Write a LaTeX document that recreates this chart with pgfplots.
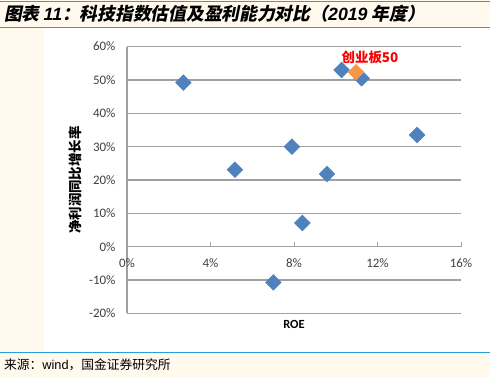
\documentclass[border=0pt]{standalone}
\usepackage{pgfplots}
\pgfplotsset{compat=1.18}
\usepackage{fontspec}
\setmainfont{Carlito}
\newfontfamily\cjk{Noto Sans CJK SC}
\newfontfamily\cjkti[FakeSlant=0.2]{Noto Sans CJK SC}
\newfontfamily\latti{Liberation Sans}
\definecolor{cream}{HTML}{FFF9EE}
\definecolor{bline}{HTML}{25A2DE}
\definecolor{ptblue}{HTML}{4F81BD}
\definecolor{ptorange}{HTML}{F79646}
\definecolor{gridgray}{HTML}{A0A0A0}
\definecolor{ticktext}{HTML}{404040}
\begin{document}
\begin{tikzpicture}[x=1bp,y=1bp]
\path[use as bounding box] (0,0) rectangle (490,377);
\fill[cream] (0,0) rectangle (490,377);
\fill[white] (44,25) rectangle (490,349);
\draw[bline, line width=1.5bp] (0,375.5) -- (490,375.5);
\draw[bline, line width=1bp] (0,349.5) -- (490,349.5);
\draw[bline, line width=1.5bp] (0,24.5) -- (490,24.5);
\node[anchor=west, inner sep=0] at (4,363.5) {\cjkti\bfseries\fontsize{17.8}{20}\selectfont 图表 {\latti\bfseries\itshape 11}：科技指数估值及盈利能力对比（{\latti\bfseries\itshape 2019} 年度）};
\node[anchor=west, inner sep=0] at (4,12) {\cjk\fontsize{12.8}{14}\selectfont 来源：{\latti wind}，国金证券研究所};
\node[rotate=90, inner sep=0, font=\cjk\bfseries\fontsize{13.5}{15}\selectfont] at (75,197) {净利润同比增长率};
\node[inner sep=0, font=\bfseries\fontsize{12.5}{14}\selectfont] at (294,53) {ROE};
\begin{axis}[
  scale only axis, width=334bp, height=266.8bp,
  anchor=origin, at={(127bp,130.3bp)},
  xmin=0, xmax=16, ymin=-20, ymax=60,
  axis x line=middle, axis y line=left,
  axis line style={gridgray, line width=1.2bp, -},
  xtick={0,4,8,12,16}, ytick={-20,-10,0,10,20,30,40,50,60},
  hide obscured x ticks=false, hide obscured y ticks=false,
  ymajorgrids, grid style={gridgray, line width=1.2bp},
  tick align=inside, major tick length=5bp,
  x tick style={gridgray, line width=1bp},
  y tick style={draw=none},
  tick label style={font=\fontsize{13}{15}\selectfont, text=ticktext},
  /pgf/number format/assume math mode=true,
  xticklabel={\pgfmathprintnumber{\tick}\%},
  yticklabel={\pgfmathprintnumber{\tick}\%},
  xticklabel style={yshift=-8bp},
  yticklabel style={xshift=-8bp},
  clip=false,
]
\addplot[only marks, mark=square*, mark size=5.6bp, mark options={rotate=45, fill=ptblue, draw=ptblue}] coordinates {
(2.70,49.2) (5.17,23.1) (7.90,30.0) (8.40,7.1) (7.01,-10.7) (9.58,21.8) (13.90,33.5) (10.28,53.0) (11.24,50.5)
};
\addplot[only marks, mark=square*, mark size=5.6bp, mark options={rotate=45, fill=ptorange, draw=ptorange}] coordinates {
(10.97,52.3)
};
\node[text=red, inner sep=0, font=\cjk\bfseries\fontsize{13.5}{15}\selectfont] at (axis cs:11.64,56.9) {创业板50};
\end{axis}
\end{tikzpicture}
\end{document}
